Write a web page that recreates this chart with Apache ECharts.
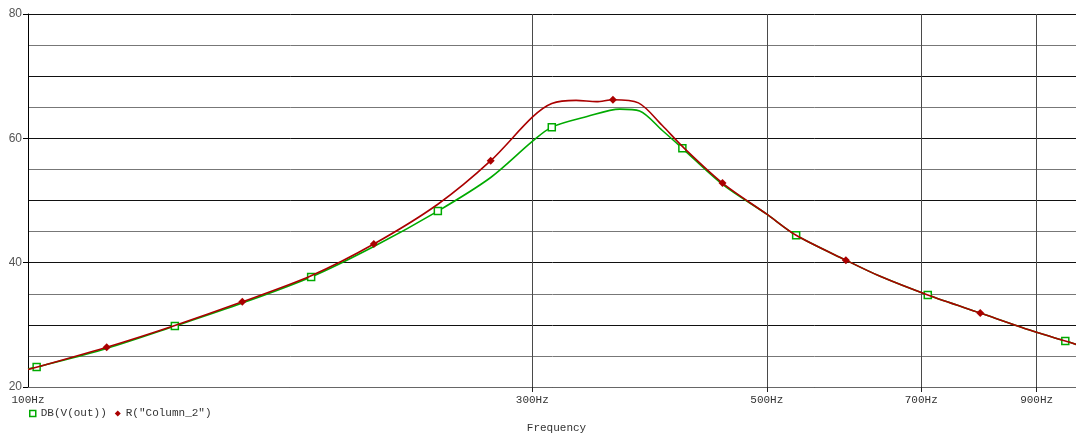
<!DOCTYPE html>
<html>
<head>
<meta charset="utf-8">
<script src="https://cdn.jsdelivr.net/npm/echarts@6/dist/echarts.min.js"></script>
<style>html,body{margin:0;padding:0;background:#fff}#c{width:1076px;height:437px}</style>
</head>
<body>
<div id="c"></div>
<script>
// Frequencies in Hz, values in dB
const greenFreq = [100, 101.9, 118.7, 137.7, 159.5, 185.3, 212.4, 244.2, 274, 300, 313, 338, 363, 379, 398, 416, 454, 500, 533, 594, 640, 710, 796, 900, 958, 983];
const greenDb   = [22.9, 23.2, 26.2, 29.8, 33.5, 37.7, 42.6, 48.3, 53.7, 59.5, 61.8, 63.5, 64.7, 64.4, 61.3, 58.4, 52.6, 47.8, 44.4, 40.4, 37.8, 34.8, 31.9, 28.8, 27.4, 26.8];
const greenMarkers = [101.9, 137.7, 185.3, 244.2, 313, 416, 533, 710, 958];

const redFreq = [100, 118.7, 137.7, 159.5, 185.3, 212.4, 244.2, 274, 300, 313, 330, 345, 357.6, 378, 398, 416, 454, 500, 533, 594, 640, 710, 796, 900, 958, 983];
const redDb   = [22.8, 26.4, 29.9, 33.7, 37.9, 43.0, 49.4, 56.4, 63.4, 65.6, 66.1, 65.9, 66.2, 65.7, 62.1, 58.7, 52.8, 47.8, 44.4, 40.4, 37.8, 34.8, 31.9, 28.8, 27.4, 26.8];
const redMarkers = [118.7, 159.5, 212.4, 274, 357.6, 454, 594, 796];

const xLabelValues = [100, 300, 500, 700, 900];
const xTickValues = [300, 500, 700, 900];
const seriesNames = ['DB(V(out))', 'R("Column_2")'];

const GREEN = '#00aa00', RED = '#aa0000';
const MONO = '"Liberation Mono", "DejaVu Sans Mono", monospace';

const chart = echarts.init(document.getElementById('c'), null, {renderer: 'canvas'});
const pairs = (xs, ys) => xs.map((x, i) => [x, ys[i]]);

chart.setOption({
  animation: false,
  grid: {left: 28, top: 14, right: -9, bottom: 50, containLabel: false, outerBoundsMode: 'none'},
  legend: {
    left: 24, top: 403, itemWidth: 6, itemHeight: 6, itemGap: 8,
    textStyle: {fontFamily: MONO, fontSize: 11, color: '#333'},
    data: [
      {name: seriesNames[0], icon: 'rect', itemStyle: {color: '#fff', borderColor: GREEN, borderWidth: 1.5}},
      {name: seriesNames[1], icon: 'diamond', itemStyle: {color: RED, borderWidth: 0}}
    ]
  },
  xAxis: {
    type: 'log', logBase: 10, min: 100, max: 1000,
    name: 'Frequency', nameLocation: 'middle', nameGap: 36,
    nameTextStyle: {fontFamily: MONO, fontSize: 11, color: '#333'},
    axisLine: {show: true, onZero: false, lineStyle: {color: '#666', width: 1}},
    axisTick: {show: true, length: 5, inside: false, customValues: xTickValues, lineStyle: {color: '#222'}},
    axisLabel: {customValues: xLabelValues, margin: 8, fontFamily: MONO, fontSize: 11, color: '#333',
      formatter: v => v + 'Hz'},
    splitLine: {show: true, lineStyle: {color: '#4a4a4a', width: 1}},
    minorSplitLine: {show: false}
  },
  yAxis: [
    {
      type: 'value', min: 20, max: 80, interval: 20, position: 'left',
      axisLine: {show: true, onZero: false, lineStyle: {color: '#000', width: 1}},
      axisTick: {show: true, length: 5, lineStyle: {color: '#000'}},
      axisLabel: {margin: 6, fontFamily: '"Liberation Sans", Arial, sans-serif', fontSize: 12, color: '#555'},
      splitLine: {show: false}
    },
    {
      type: 'value', min: 20, max: 80, interval: 5, position: 'right',
      axisLine: {show: false}, axisTick: {show: false}, axisLabel: {show: false},
      splitLine: {show: true, lineStyle: {color: ['#111', '#777'], width: 1}}
    }
  ],
  series: [
    {
      name: seriesNames[0], type: 'line', yAxisIndex: 0, smooth: 0.3,
      data: pairs(greenFreq, greenDb),
      showAllSymbol: true,
      symbol: (v) => greenMarkers.includes(v[0]) ? 'rect' : 'none',
      symbolSize: 7,
      lineStyle: {color: GREEN, width: 1.6},
      itemStyle: {color: '#fff', borderColor: GREEN, borderWidth: 1.5},
      z: 3
    },
    {
      name: seriesNames[1], type: 'line', yAxisIndex: 0, smooth: 0.3,
      data: pairs(redFreq, redDb),
      showAllSymbol: true,
      symbol: (v) => redMarkers.includes(v[0]) ? 'diamond' : 'none',
      symbolSize: 8,
      lineStyle: {color: RED, width: 1.6},
      itemStyle: {color: RED, borderColor: RED, borderWidth: 0},
      z: 4
    }
  ]
});
</script>
</body>
</html>
